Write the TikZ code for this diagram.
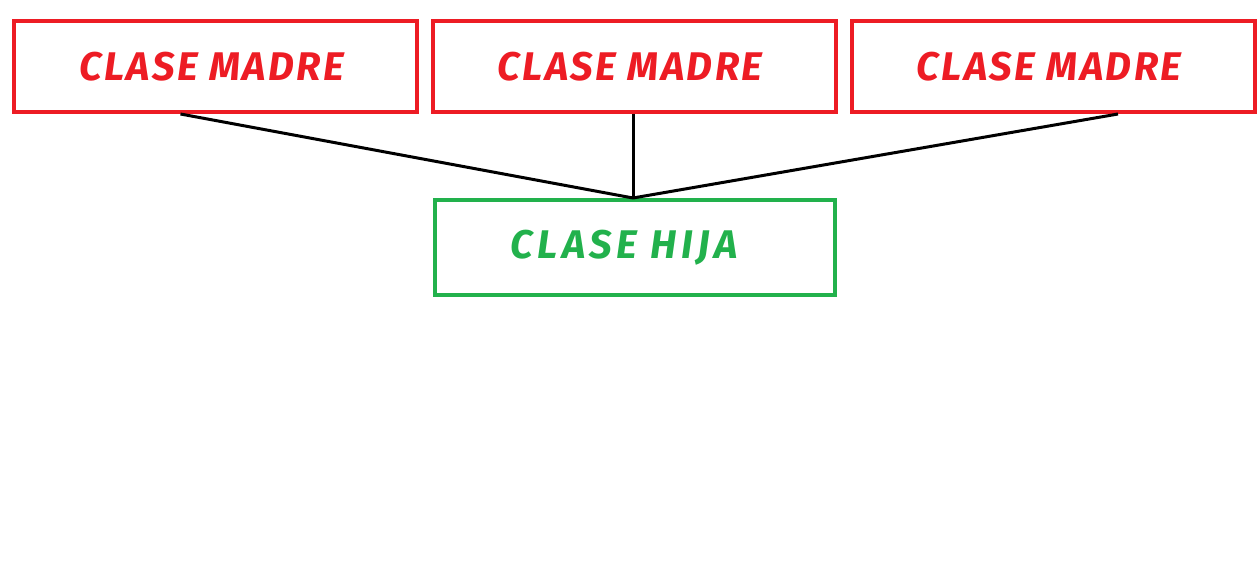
\documentclass[tikz,border=0pt]{standalone}
\usepackage{fontspec}
\setmainfont{Fira Sans}
\usepackage{tikz}
\usetikzlibrary{positioning}
\definecolor{madrered}{RGB}{237,28,36}
\definecolor{hijagreen}{RGB}{34,177,76}
\tikzstyle{madre} = [draw=madrered, line width=4pt, minimum width=403pt, minimum height=91pt, inner sep=0pt, text=madrered, font=\fontsize{40}{40}\selectfont\bfseries\itshape\addfontfeature{LetterSpace=6}]
\tikzstyle{hija} = [draw=hijagreen, line width=4pt, minimum width=400pt, minimum height=95pt, inner sep=0pt, text=hijagreen, font=\fontsize{40}{40}\selectfont\bfseries\itshape\addfontfeature{LetterSpace=11}]
\tikzstyle{link} = [line width=3pt, black]

\begin{document}
\begin{tikzpicture}[x=1pt, y=-1pt]

   % Page frame
   \useasboundingbox (0,0) rectangle (1260,575);

   % Parent classes
   \node[madre] (madreA) at (215.5,66.5) {CLASE MADRE\hspace*{8pt}};
   \node[madre] (madreB) at (634,66.5) {CLASE MADRE\hspace*{8pt}};
   \node[madre] (madreC) at (1053,66.5) {CLASE MADRE\hspace*{8pt}};

   % Child class
   \node[hija] (hijo) at (635,247.5) {CLASE HIJA\hspace*{22pt}};

   % Links from the parents down to the child
   \draw[link] ([xshift=-35pt]madreA.south) -- ([xshift=-2pt]hijo.north);
   \draw[link] ([xshift=-1pt]madreB.south) -- ([xshift=-2pt]hijo.north);
   \draw[link] ([xshift=65pt]madreC.south) -- ([xshift=-2pt]hijo.north);

\end{tikzpicture}
\end{document}
